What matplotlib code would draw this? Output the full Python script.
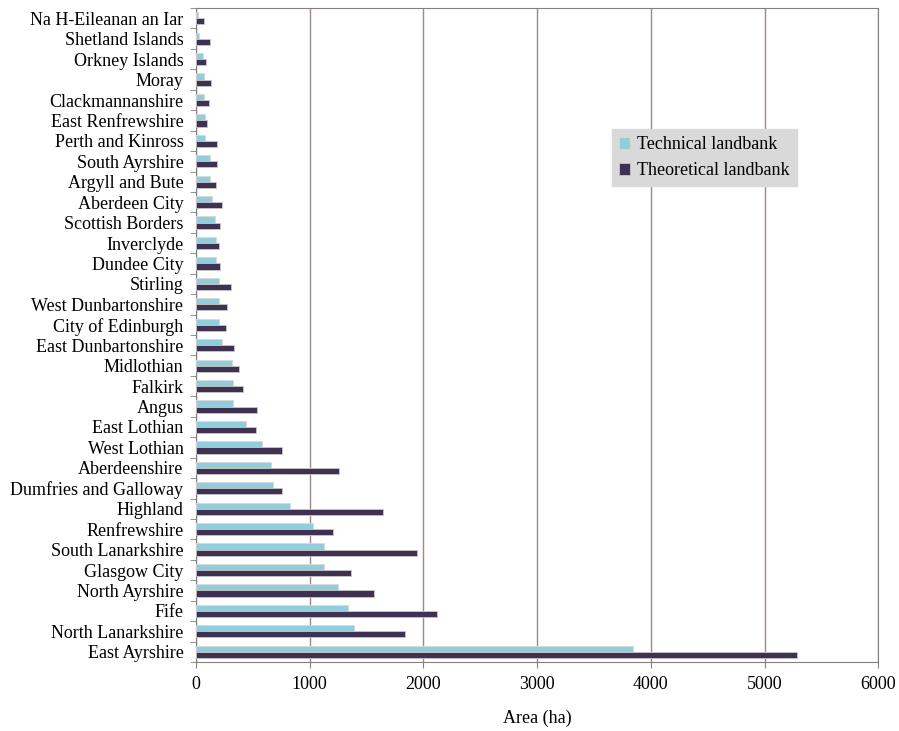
import numpy as np
import matplotlib
matplotlib.use('Agg')
import matplotlib.pyplot as plt

# Council areas, listed bottom to top as drawn
councils = ['East Ayrshire', 'North Lanarkshire', 'Fife', 'North Ayrshire', 'Glasgow City',
            'South Lanarkshire', 'Renfrewshire', 'Highland', 'Dumfries and Galloway',
            'Aberdeenshire', 'West Lothian', 'East Lothian', 'Angus', 'Falkirk', 'Midlothian',
            'East Dunbartonshire', 'City of Edinburgh', 'West Dunbartonshire', 'Stirling',
            'Dundee City', 'Inverclyde', 'Scottish Borders', 'Aberdeen City', 'Argyll and Bute',
            'South Ayrshire', 'Perth and Kinross', 'East Renfrewshire', 'Clackmannanshire',
            'Moray', 'Orkney Islands', 'Shetland Islands', 'Na H-Eileanan an Iar']

technical = [3843, 1393, 1340, 1252, 1123, 1123, 1026, 824, 674, 663, 578, 437, 328, 323, 314,
             232, 205, 199, 199, 179, 179, 164, 141, 123, 120, 82, 76, 70, 70, 59, 23, 18]
theoretical = [5286, 1841, 2120, 1568, 1363, 1944, 1205, 1645, 759, 1258, 759, 528, 539, 413, 381,
               334, 261, 276, 311, 208, 202, 208, 229, 176, 188, 182, 97, 117, 129, 88, 123, 70]

x_ticks = [0, 1000, 2000, 3000, 4000, 5000, 6000]

plt.rcParams['font.family'] = ['Liberation Serif', 'DejaVu Serif']

fig = plt.figure(figsize=(8.99, 7.31), dpi=100)
ax = fig.add_axes([0.218, 0.0944, 0.759, 0.8946])

y = np.arange(len(councils))
h = 0.3
ax.barh(y + h / 2, technical, height=h, color='#92CDDC', label='Technical landbank',
        edgecolor='#d8d8d8', linewidth=0.6, zorder=3)
ax.barh(y - h / 2, theoretical, height=h, color='#3F3151', label='Theoretical landbank',
        edgecolor='#c8c8c8', linewidth=0.6, zorder=3)

ax.set_xlim(0, 6000)
ax.set_ylim(-0.5, len(councils) - 0.5)
ax.set_xticks(x_ticks)
ax.set_xticklabels([str(t) for t in x_ticks], fontsize=13)
ax.set_yticks(y)
ax.set_yticklabels(councils, fontsize=13)
ax.set_yticks(np.arange(len(councils) + 1) - 0.5, minor=True)
ax.tick_params(axis='y', which='major', length=0, pad=9)
ax.tick_params(axis='y', which='minor', length=4, color='#808080')
ax.tick_params(axis='x', length=4, color='#808080', pad=6)

ax.grid(axis='x', color='#a08888', linewidth=1, zorder=0)
for s in ax.spines.values():
    s.set_color('#808080')

ax.set_xlabel('Area (ha)', fontsize=13, labelpad=12)

leg = ax.legend(loc='upper left', bbox_to_anchor=(0.61, 0.815), fontsize=13,
                frameon=True, fancybox=False, handlelength=0.6, handleheight=0.6,
                handletextpad=0.4, borderpad=0.4, labelspacing=0.5, borderaxespad=0)
leg.get_frame().set_facecolor('#d9d9d9')
leg.get_frame().set_edgecolor('#d9d9d9')
leg.get_frame().set_alpha(1)

fig.savefig('out.png', dpi=100)
